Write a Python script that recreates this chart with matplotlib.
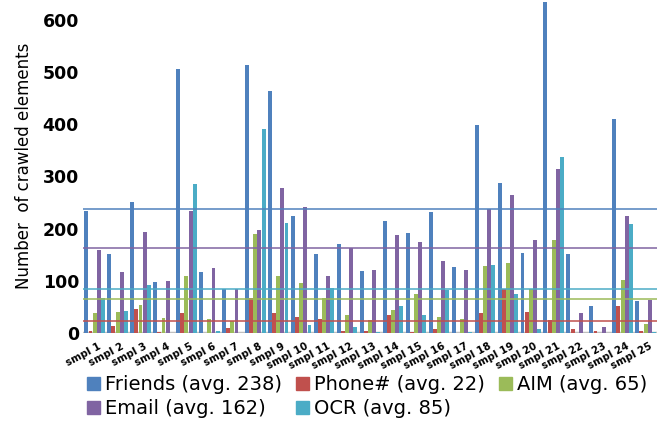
import numpy as np
import matplotlib
matplotlib.use("Agg")
import matplotlib.pyplot as plt
from matplotlib.patches import Patch

# values
samples = [f"smpl {i}" for i in range(1, 26)]
friends = [233, 152, 252, 98, 506, 117, 85, 513, 463, 225, 152, 171, 119, 215, 192, 231, 127, 398, 287, 154, 635, 152, 52, 410, 62]
phone = [4, 14, 46, 2, 38, 0, 10, 67, 38, 31, 27, 4, 4, 35, 2, 8, 0, 38, 85, 40, 25, 8, 4, 52, 4]
aim = [39, 40, 54, 29, 110, 27, 23, 190, 110, 96, 67, 35, 25, 44, 75, 31, 27, 129, 135, 85, 179, 0, 0, 102, 17]
email = [160, 117, 194, 100, 233, 125, 85, 198, 277, 242, 110, 163, 121, 188, 175, 138, 121, 237, 265, 179, 315, 38, 12, 225, 63]
ocr = [67, 42, 92, 0, 285, 4, 0, 392, 210, 15, 87, 12, 1, 52, 35, 83, 1, 131, 75, 8, 337, 0, 0, 208, 1]

names = ["Friends", "Phone#", "AIM", "Email", "OCR"]
averages = [238, 22, 65, 162, 85]
colors = ["#4F81BD", "#C0504D", "#9BBB59", "#8064A2", "#4BACC6"]

series = [friends, phone, aim, email, ocr]

fig = plt.figure(figsize=(6.65, 4.22), dpi=100)
ax = fig.add_axes([0.125, 0.211, 0.863, 0.791])

x = np.arange(len(samples))
width = 0.18
for k, (vals, col) in enumerate(zip(series, colors)):
	ax.bar(x + (k - 2) * width, vals, width=width * 0.95, color=col, zorder=2)

# average lines
for avg, col in zip(averages, colors):
	ax.axhline(avg, color=col, linewidth=1.1, zorder=3)

ax.axhline(0, color="#BFBFBF", linewidth=2.5, zorder=1)

ax.set_xlim(-0.5, len(samples) - 0.5)
ax.set_ylim(0, 640)
ax.set_yticks(range(0, 601, 100))
ax.set_yticklabels([str(v) for v in range(0, 601, 100)], fontsize=12.5, fontweight="bold")
ax.set_xticks(x + 0.15)
ax.set_xticklabels(samples, rotation=28, ha="right", rotation_mode="anchor", fontsize=7.3, fontweight="bold")
ax.tick_params(length=0, pad=3)
ax.tick_params(axis="x", pad=6)
for s in ax.spines.values():
	s.set_visible(False)

ax.set_ylabel("Number  of crawled elements", fontsize=12)
ax.yaxis.set_label_coords(-0.088, 0.5)

handles = [Patch(color=c, label=f"{n} (avg. {a})") for n, a, c in zip(names, averages, colors)]
order = [0, 3, 1, 4, 2]
fig.legend([handles[i] for i in order], [handles[i].get_label() for i in order],
	ncol=3, loc="upper left", bbox_to_anchor=(0.119, 0.13), frameon=False, fontsize=14,
	handlelength=0.65, handleheight=0.65, handletextpad=0.3, columnspacing=0.7, labelspacing=0.28,
	borderaxespad=0)

fig.savefig("out.png", dpi=100)
